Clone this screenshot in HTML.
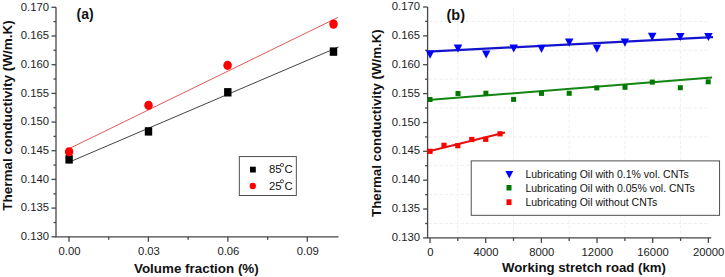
<!DOCTYPE html>
<html><head><meta charset="utf-8"><style>
html,body{margin:0;padding:0;background:#fff;width:725px;height:277px;overflow:hidden}
svg{display:block;font-family:"Liberation Sans", sans-serif}
</style></head><body>
<svg width="725" height="277" viewBox="0 0 725 277">
<line x1="428.6" y1="223.5" x2="709.5" y2="223.5" stroke="#efefef" stroke-width="1" stroke-dasharray="3.5,1.8"/>
<line x1="428.6" y1="194.6" x2="709.5" y2="194.6" stroke="#efefef" stroke-width="1" stroke-dasharray="3.5,1.8"/>
<line x1="428.6" y1="165.7" x2="709.5" y2="165.7" stroke="#efefef" stroke-width="1" stroke-dasharray="3.5,1.8"/>
<line x1="428.6" y1="136.9" x2="709.5" y2="136.9" stroke="#efefef" stroke-width="1" stroke-dasharray="3.5,1.8"/>
<line x1="428.6" y1="108.0" x2="709.5" y2="108.0" stroke="#efefef" stroke-width="1" stroke-dasharray="3.5,1.8"/>
<line x1="428.6" y1="79.2" x2="709.5" y2="79.2" stroke="#efefef" stroke-width="1" stroke-dasharray="3.5,1.8"/>
<line x1="428.6" y1="50.3" x2="709.5" y2="50.3" stroke="#efefef" stroke-width="1" stroke-dasharray="3.5,1.8"/>
<line x1="428.6" y1="21.4" x2="709.5" y2="21.4" stroke="#efefef" stroke-width="1" stroke-dasharray="3.5,1.8"/>
<line x1="457.8" y1="8" x2="457.8" y2="236.9" stroke="#efefef" stroke-width="1" stroke-dasharray="3.5,1.8"/>
<line x1="513.5" y1="8" x2="513.5" y2="236.9" stroke="#efefef" stroke-width="1" stroke-dasharray="3.5,1.8"/>
<line x1="569.2" y1="8" x2="569.2" y2="236.9" stroke="#efefef" stroke-width="1" stroke-dasharray="3.5,1.8"/>
<line x1="624.9" y1="8" x2="624.9" y2="236.9" stroke="#efefef" stroke-width="1" stroke-dasharray="3.5,1.8"/>
<line x1="680.6" y1="8" x2="680.6" y2="236.9" stroke="#efefef" stroke-width="1" stroke-dasharray="3.5,1.8"/>
<path d="M56.0,7.3 V236.8 H338.5" fill="none" stroke="#474747" stroke-width="1.3"/>
<line x1="51.5" y1="236.8" x2="56.0" y2="236.8" stroke="#474747" stroke-width="1.3"/>
<line x1="53.5" y1="222.5" x2="56.0" y2="222.5" stroke="#474747" stroke-width="1.3"/>
<text x="49.0" y="240.0" text-anchor="end" font-size="11.3" fill="#222">0.130</text>
<line x1="51.5" y1="208.1" x2="56.0" y2="208.1" stroke="#474747" stroke-width="1.3"/>
<line x1="53.5" y1="193.8" x2="56.0" y2="193.8" stroke="#474747" stroke-width="1.3"/>
<text x="49.0" y="211.3" text-anchor="end" font-size="11.3" fill="#222">0.135</text>
<line x1="51.5" y1="179.4" x2="56.0" y2="179.4" stroke="#474747" stroke-width="1.3"/>
<line x1="53.5" y1="165.1" x2="56.0" y2="165.1" stroke="#474747" stroke-width="1.3"/>
<text x="49.0" y="182.6" text-anchor="end" font-size="11.3" fill="#222">0.140</text>
<line x1="51.5" y1="150.7" x2="56.0" y2="150.7" stroke="#474747" stroke-width="1.3"/>
<line x1="53.5" y1="136.4" x2="56.0" y2="136.4" stroke="#474747" stroke-width="1.3"/>
<text x="49.0" y="153.9" text-anchor="end" font-size="11.3" fill="#222">0.145</text>
<line x1="51.5" y1="122.1" x2="56.0" y2="122.1" stroke="#474747" stroke-width="1.3"/>
<line x1="53.5" y1="107.7" x2="56.0" y2="107.7" stroke="#474747" stroke-width="1.3"/>
<text x="49.0" y="125.3" text-anchor="end" font-size="11.3" fill="#222">0.150</text>
<line x1="51.5" y1="93.4" x2="56.0" y2="93.4" stroke="#474747" stroke-width="1.3"/>
<line x1="53.5" y1="79.0" x2="56.0" y2="79.0" stroke="#474747" stroke-width="1.3"/>
<text x="49.0" y="96.6" text-anchor="end" font-size="11.3" fill="#222">0.155</text>
<line x1="51.5" y1="64.7" x2="56.0" y2="64.7" stroke="#474747" stroke-width="1.3"/>
<line x1="53.5" y1="50.3" x2="56.0" y2="50.3" stroke="#474747" stroke-width="1.3"/>
<text x="49.0" y="67.9" text-anchor="end" font-size="11.3" fill="#222">0.160</text>
<line x1="51.5" y1="36.0" x2="56.0" y2="36.0" stroke="#474747" stroke-width="1.3"/>
<line x1="53.5" y1="21.6" x2="56.0" y2="21.6" stroke="#474747" stroke-width="1.3"/>
<text x="49.0" y="39.2" text-anchor="end" font-size="11.3" fill="#222">0.165</text>
<line x1="51.5" y1="7.3" x2="56.0" y2="7.3" stroke="#474747" stroke-width="1.3"/>
<text x="49.0" y="10.5" text-anchor="end" font-size="11.3" fill="#222">0.170</text>
<line x1="69.0" y1="236.8" x2="69.0" y2="241.8" stroke="#474747" stroke-width="1.3"/>
<text x="69.5" y="255" text-anchor="middle" font-size="11.3" fill="#222">0.00</text>
<line x1="108.7" y1="236.8" x2="108.7" y2="239.8" stroke="#474747" stroke-width="1.3"/>
<line x1="148.4" y1="236.8" x2="148.4" y2="241.8" stroke="#474747" stroke-width="1.3"/>
<text x="148.9" y="255" text-anchor="middle" font-size="11.3" fill="#222">0.03</text>
<line x1="188.1" y1="236.8" x2="188.1" y2="239.8" stroke="#474747" stroke-width="1.3"/>
<line x1="227.9" y1="236.8" x2="227.9" y2="241.8" stroke="#474747" stroke-width="1.3"/>
<text x="228.4" y="255" text-anchor="middle" font-size="11.3" fill="#222">0.06</text>
<line x1="267.6" y1="236.8" x2="267.6" y2="239.8" stroke="#474747" stroke-width="1.3"/>
<line x1="307.3" y1="236.8" x2="307.3" y2="241.8" stroke="#474747" stroke-width="1.3"/>
<text x="307.8" y="255" text-anchor="middle" font-size="11.3" fill="#222">0.09</text>
<path d="M427.6,7.0 V237.9 H711.3" fill="none" stroke="#474747" stroke-width="1.3"/>
<line x1="423.1" y1="237.9" x2="427.6" y2="237.9" stroke="#474747" stroke-width="1.3"/>
<line x1="425.1" y1="223.5" x2="427.6" y2="223.5" stroke="#474747" stroke-width="1.3"/>
<text x="420" y="241.0" text-anchor="end" font-size="11.3" fill="#222">0.130</text>
<line x1="423.1" y1="209.0" x2="427.6" y2="209.0" stroke="#474747" stroke-width="1.3"/>
<line x1="425.1" y1="194.6" x2="427.6" y2="194.6" stroke="#474747" stroke-width="1.3"/>
<text x="420" y="212.1" text-anchor="end" font-size="11.3" fill="#222">0.135</text>
<line x1="423.1" y1="180.2" x2="427.6" y2="180.2" stroke="#474747" stroke-width="1.3"/>
<line x1="425.1" y1="165.7" x2="427.6" y2="165.7" stroke="#474747" stroke-width="1.3"/>
<text x="420" y="183.3" text-anchor="end" font-size="11.3" fill="#222">0.140</text>
<line x1="423.1" y1="151.3" x2="427.6" y2="151.3" stroke="#474747" stroke-width="1.3"/>
<line x1="425.1" y1="136.9" x2="427.6" y2="136.9" stroke="#474747" stroke-width="1.3"/>
<text x="420" y="154.4" text-anchor="end" font-size="11.3" fill="#222">0.145</text>
<line x1="423.1" y1="122.5" x2="427.6" y2="122.5" stroke="#474747" stroke-width="1.3"/>
<line x1="425.1" y1="108.0" x2="427.6" y2="108.0" stroke="#474747" stroke-width="1.3"/>
<text x="420" y="125.6" text-anchor="end" font-size="11.3" fill="#222">0.150</text>
<line x1="423.1" y1="93.6" x2="427.6" y2="93.6" stroke="#474747" stroke-width="1.3"/>
<line x1="425.1" y1="79.2" x2="427.6" y2="79.2" stroke="#474747" stroke-width="1.3"/>
<text x="420" y="96.7" text-anchor="end" font-size="11.3" fill="#222">0.155</text>
<line x1="423.1" y1="64.7" x2="427.6" y2="64.7" stroke="#474747" stroke-width="1.3"/>
<line x1="425.1" y1="50.3" x2="427.6" y2="50.3" stroke="#474747" stroke-width="1.3"/>
<text x="420" y="67.8" text-anchor="end" font-size="11.3" fill="#222">0.160</text>
<line x1="423.1" y1="35.9" x2="427.6" y2="35.9" stroke="#474747" stroke-width="1.3"/>
<line x1="425.1" y1="21.4" x2="427.6" y2="21.4" stroke="#474747" stroke-width="1.3"/>
<text x="420" y="39.0" text-anchor="end" font-size="11.3" fill="#222">0.165</text>
<line x1="423.1" y1="7.0" x2="427.6" y2="7.0" stroke="#474747" stroke-width="1.3"/>
<text x="420" y="10.1" text-anchor="end" font-size="11.3" fill="#222">0.170</text>
<line x1="430.0" y1="237.9" x2="430.0" y2="242.9" stroke="#474747" stroke-width="1.3"/>
<text x="430.3" y="255.8" text-anchor="middle" font-size="11.3" fill="#222">0</text>
<line x1="457.8" y1="237.9" x2="457.8" y2="240.9" stroke="#474747" stroke-width="1.3"/>
<line x1="485.7" y1="237.9" x2="485.7" y2="242.9" stroke="#474747" stroke-width="1.3"/>
<text x="486.0" y="255.8" text-anchor="middle" font-size="11.3" fill="#222">4000</text>
<line x1="513.5" y1="237.9" x2="513.5" y2="240.9" stroke="#474747" stroke-width="1.3"/>
<line x1="541.4" y1="237.9" x2="541.4" y2="242.9" stroke="#474747" stroke-width="1.3"/>
<text x="541.7" y="255.8" text-anchor="middle" font-size="11.3" fill="#222">8000</text>
<line x1="569.2" y1="237.9" x2="569.2" y2="240.9" stroke="#474747" stroke-width="1.3"/>
<line x1="597.0" y1="237.9" x2="597.0" y2="242.9" stroke="#474747" stroke-width="1.3"/>
<text x="597.3" y="255.8" text-anchor="middle" font-size="11.3" fill="#222">12000</text>
<line x1="624.9" y1="237.9" x2="624.9" y2="240.9" stroke="#474747" stroke-width="1.3"/>
<line x1="652.7" y1="237.9" x2="652.7" y2="242.9" stroke="#474747" stroke-width="1.3"/>
<text x="653.0" y="255.8" text-anchor="middle" font-size="11.3" fill="#222">16000</text>
<line x1="680.6" y1="237.9" x2="680.6" y2="240.9" stroke="#474747" stroke-width="1.3"/>
<line x1="708.4" y1="237.9" x2="708.4" y2="242.9" stroke="#474747" stroke-width="1.3"/>
<text x="708.7" y="255.8" text-anchor="middle" font-size="11.3" fill="#222">20000</text>
<text x="134" y="273" font-size="13.4" font-weight="bold" fill="#111">Volume fraction (%)</text>
<text x="502" y="272.3" font-size="13.2" font-weight="bold" fill="#111">Working stretch road (km)</text>
<text transform="translate(11.8,210.7) rotate(-90)" font-size="13.5" font-weight="bold" fill="#111">Thermal conductivity (W/m.K)</text>
<text transform="translate(381,216.9) rotate(-90)" font-size="13.3" font-weight="bold" fill="#111">Thermal conductivity (W/m.K)</text>
<text x="76.5" y="19.3" font-size="14" font-weight="bold" fill="#111">(a)</text>
<text x="446.5" y="19.5" font-size="14.5" font-weight="bold" fill="#111">(b)</text>
<line x1="69" y1="162.2" x2="338.5" y2="47" stroke="#444" stroke-width="1"/>
<rect x="65.4" y="155.2" width="7.4" height="8.4" fill="#000"/>
<rect x="144.8" y="127.2" width="7.4" height="8.4" fill="#000"/>
<rect x="224.1" y="88.1" width="7.4" height="8.4" fill="#000"/>
<rect x="329.8" y="47.4" width="7.4" height="8.4" fill="#000"/>
<line x1="69" y1="148.7" x2="338" y2="17.4" stroke="#e05a5a" stroke-width="1"/>
<ellipse cx="69.1" cy="151.8" rx="4.25" ry="4.65" fill="#f00"/>
<ellipse cx="148.5" cy="105.3" rx="4.25" ry="4.65" fill="#f00"/>
<ellipse cx="227.6" cy="65.3" rx="4.25" ry="4.65" fill="#f00"/>
<ellipse cx="333.5" cy="24.1" rx="4.25" ry="4.65" fill="#f00"/>
<rect x="239.3" y="156.6" width="57" height="38.9" fill="#fff" stroke="#3c3c3c" stroke-width="0.9"/>
<rect x="250" y="166.7" width="5.8" height="5.8" fill="#000"/>
<circle cx="252.8" cy="186" r="3.2" fill="#f00"/>
<text x="269" y="173.2" font-size="11.3" fill="#111">85<tspan x="284.6">C</tspan></text>
<text x="269" y="189.5" font-size="11.3" fill="#111">25<tspan x="284.6">C</tspan></text>
<circle cx="282" cy="165" r="1.6" fill="none" stroke="#222" stroke-width="0.8"/>
<circle cx="282" cy="181.3" r="1.6" fill="none" stroke="#222" stroke-width="0.8"/>
<line x1="428" y1="151.5" x2="505" y2="132.5" stroke="#e31010" stroke-width="2.1"/>
<rect x="427.4" y="148.7" width="5.2" height="5.2" fill="#f00"/>
<rect x="441.4" y="142.7" width="5.2" height="5.2" fill="#f00"/>
<rect x="455.2" y="143.1" width="5.2" height="5.2" fill="#f00"/>
<rect x="469.2" y="136.9" width="5.2" height="5.2" fill="#f00"/>
<rect x="483.1" y="136.7" width="5.2" height="5.2" fill="#f00"/>
<rect x="497.4" y="131.2" width="5.2" height="5.2" fill="#f00"/>
<line x1="428" y1="100" x2="712" y2="77.4" stroke="#128512" stroke-width="2.0"/>
<rect x="427.5" y="97.0" width="5" height="5" fill="#007700"/>
<rect x="455.5" y="91.0" width="5" height="5" fill="#007700"/>
<rect x="483.4" y="90.7" width="5" height="5" fill="#007700"/>
<rect x="511.1" y="96.9" width="5" height="5" fill="#007700"/>
<rect x="539.0" y="90.9" width="5" height="5" fill="#007700"/>
<rect x="566.7" y="90.8" width="5" height="5" fill="#007700"/>
<rect x="594.3" y="85.4" width="5" height="5" fill="#007700"/>
<rect x="622.5" y="84.8" width="5" height="5" fill="#007700"/>
<rect x="649.8" y="79.6" width="5" height="5" fill="#007700"/>
<rect x="677.8" y="85.2" width="5" height="5" fill="#007700"/>
<rect x="705.7" y="79.3" width="5" height="5" fill="#007700"/>
<line x1="428" y1="51.6" x2="713" y2="37.1" stroke="#1414cc" stroke-width="2.3"/>
<path d="M425.85,50.5 H434.35 L430.1,58.7 Z" fill="#0000ff"/>
<path d="M453.75,44.6 H462.25 L458.0,52.8 Z" fill="#0000ff"/>
<path d="M481.95,50.4 H490.45 L486.2,58.6 Z" fill="#0000ff"/>
<path d="M509.45,44.4 H517.95 L513.7,52.6 Z" fill="#0000ff"/>
<path d="M537.25,44.8 H545.75 L541.5,53.0 Z" fill="#0000ff"/>
<path d="M564.95,38.6 H573.45 L569.2,46.8 Z" fill="#0000ff"/>
<path d="M592.65,44.5 H601.15 L596.9,52.7 Z" fill="#0000ff"/>
<path d="M620.65,38.6 H629.15 L624.9,46.8 Z" fill="#0000ff"/>
<path d="M647.95,32.8 H656.45 L652.2,41.0 Z" fill="#0000ff"/>
<path d="M676.05,32.9 H684.55 L680.3,41.1 Z" fill="#0000ff"/>
<path d="M704.15,32.9 H712.65 L708.4,41.1 Z" fill="#0000ff"/>
<rect x="471.2" y="160.9" width="248.4" height="54.4" fill="#fff" stroke="#3c3c3c" stroke-width="0.9"/>
<path d="M505.4,171 H513.2 L509.3,178.5 Z" fill="#0000ff"/>
<rect x="506.5" y="185" width="5" height="5.5" fill="#007700"/>
<rect x="506.5" y="199.3" width="5" height="5.8" fill="#f00"/>
<text x="525.4" y="178" font-size="10.5" fill="#111">Lubricating Oil with 0.1% vol. CNTs</text>
<text x="525.4" y="191.8" font-size="10.5" fill="#111">Lubricating Oil with 0.05% vol. CNTs</text>
<text x="525.4" y="205.6" font-size="10.5" fill="#111">Lubricating Oil without CNTs</text>
</svg>
</body></html>
